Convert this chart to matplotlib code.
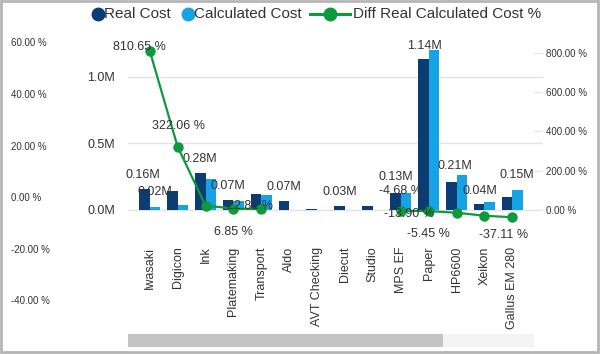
import matplotlib
matplotlib.use("Agg")
import matplotlib.pyplot as plt
import numpy as np
from matplotlib.lines import Line2D
from matplotlib.patches import Rectangle

plt.rcParams["font.family"] = ["Liberation Sans", "DejaVu Sans"]

# Data
categories = ["Iwasaki", "Digicon", "Ink", "Platemaking", "Transport", "Aldo",
              "AVT Checking", "Diecut", "Studio", "MPS EF", "Paper", "HP6600",
              "Xeikon", "Gallus EM 280"]
real_cost = [0.157, 0.145, 0.281, 0.072, 0.12, 0.069, 0.01, 0.028, 0.03,
             0.128, 1.138, 0.207, 0.043, 0.095]
calc_cost = [0.022, 0.035, 0.23, 0.07, 0.11, 0.0, 0.0, 0.0, 0.0,
             0.13, 1.2, 0.26, 0.06, 0.153]
diff_pct = [810.65, 322.06, 22.81, 6.85, 5.0, np.nan, np.nan, np.nan, np.nan,
            -4.68, -5.45, -13.90, -29.0, -37.11]

# which bars / points carry a visible data label, with label offset in px
real_labels = {0: (-2, 14), 2: (0, 14), 3: (0, 14), 5: (0, 14), 7: (0, 14),
               9: (0, 16), 10: (1, 13), 11: (4, 16), 12: (1, 13)}
calc_labels = {0: (0, 15), 13: (-1, 15)}
pct_labels = {0: (-10, 4), 1: (1, 21), 2: (44, 0), 3: (0, -23), 9: (0, 20),
              10: (0, -23), 11: (-48, -1), 13: (-9, -18)}

navy = "#0B3C74"
light = "#17A2E6"
green = "#0C9A3C"
txt = "#333333"

W, H = 600, 354
fig = plt.figure(figsize=(W / 100, H / 100), dpi=100)

def fx(px):
    return px / W

def fy(px):
    return 1 - px / H

ax = fig.add_axes([fx(128), fy(225), fx(543) - fx(128), fy(40) - fy(225)])
x = np.arange(len(categories))
bw = 0.38
ax.bar(x - bw / 2, real_cost, bw, color=navy, zorder=2)
ax.bar(x + bw / 2, calc_cost, bw, color=light, zorder=2)
ax.set_xlim(-0.78, 14.1)
ax.set_ylim(-0.113, 1.278)
ax.set_yticks([0, 0.5, 1.0])
ax.set_yticklabels(["0.0M", "0.5M", "1.0M"])
ax.grid(axis="y", color="#e3e3e3", lw=1, zorder=0)
ax.set_xticks(x)
ax.set_xticklabels(categories, rotation=90, fontsize=9, color=txt)
ax.tick_params(axis="x", length=0, pad=15.5)
ax.tick_params(axis="y", length=0, pad=9.5, labelsize=9, labelcolor=txt)
for s in ax.spines.values():
    s.set_visible(False)

for i, (dx, dy) in real_labels.items():
    ax.annotate(f"{real_cost[i]:.2f}M", (x[i] - bw / 2, real_cost[i]),
                xytext=(dx * 0.72, dy * 0.72), textcoords="offset points",
                ha="center", va="center", fontsize=9, color=txt, zorder=5)
for i, (dx, dy) in calc_labels.items():
    ax.annotate(f"{calc_cost[i]:.2f}M", (x[i] + bw / 2, calc_cost[i]),
                xytext=(dx * 0.72, dy * 0.72), textcoords="offset points",
                ha="center", va="center", fontsize=9, color=txt, zorder=5)

# secondary axis for the percentage line
ax2 = ax.twinx()
ax2.plot(x, diff_pct, color=green, lw=1.6, marker="o", ms=6.5, zorder=3)
ax2.set_ylim(-76.4, 866)
ax2.set_yticks([0, 200, 400, 600, 800])
ax2.set_yticklabels(["0.00 %", "200.00 %", "400.00 %", "600.00 %", "800.00 %"])
ax2.tick_params(axis="y", direction="in", length=7, color="#e6e6e6",
                pad=2.5, labelsize=7, labelcolor=txt)
for s in ax2.spines.values():
    s.set_visible(False)
for i, (dx, dy) in pct_labels.items():
    ax2.annotate(f"{diff_pct[i]:.2f} %", (x[i], diff_pct[i]),
                 xytext=(dx * 0.72, dy * 0.72), textcoords="offset points",
                 ha="center", va="center", fontsize=9, color=txt, zorder=5)

# leftover percentage axis on the far left
ax3 = fig.add_axes([fx(11), fy(320), 0.0005, fy(30) - fy(320)])
ax3.set_ylim(-47.6, 64.8)
ax3.set_yticks([-40, -20, 0, 20, 40, 60])
ax3.set_yticklabels(["-40.00 %", "-20.00 %", "0.00 %", "20.00 %", "40.00 %", "60.00 %"])
ax3.yaxis.tick_right()
ax3.tick_params(axis="y", length=0, pad=0, labelsize=7, labelcolor=txt)
ax3.set_xticks([])
ax3.patch.set_visible(False)
for s in ax3.spines.values():
    s.set_visible(False)

# legend drawn by hand
ly = fy(14)
fig.add_artist(Line2D([fx(97.6)], [ly], marker="o", ms=9, color=navy, lw=0))
fig.text(fx(104), ly, "Real Cost", fontsize=11, color=txt, va="center")
fig.add_artist(Line2D([fx(187.5)], [ly], marker="o", ms=9, color=light, lw=0))
fig.text(fx(194), ly, "Calculated Cost", fontsize=11, color=txt, va="center")
fig.add_artist(Line2D([fx(310), fx(350)], [ly, ly], color=green, lw=2.2))
fig.add_artist(Line2D([fx(330)], [ly], marker="o", ms=9, color=green, lw=0))
fig.text(fx(353), ly, "Diff Real Calculated Cost %", fontsize=11, color=txt, va="center")

# scrollbar and frame
fig.add_artist(Rectangle((fx(128), fy(346.7)), fx(534) - fx(128), fy(334) - fy(346.7),
                         transform=fig.transFigure, color="#f3f3f3", lw=0))
fig.add_artist(Rectangle((fx(128), fy(346.7)), fx(443) - fx(128), fy(334) - fy(346.7),
                         transform=fig.transFigure, color="#c3c3c3", lw=0))
fig.add_artist(Rectangle((0.002, 0.005), 0.995, 0.993, transform=fig.transFigure,
                         fill=False, edgecolor="#b5b5b5", lw=2))

fig.savefig("out.png", dpi=100)
